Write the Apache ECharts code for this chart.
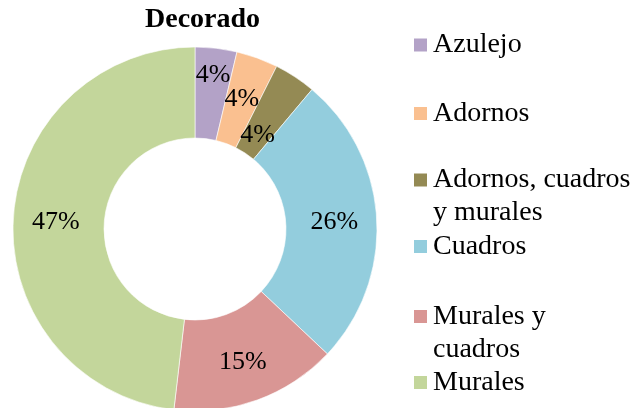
<!DOCTYPE html>
<html><head><meta charset="utf-8">
<script src="https://cdn.jsdelivr.net/npm/echarts@6/dist/echarts.min.js"></script>
<style>html,body{margin:0;padding:0;background:#fff}#c{width:639px;height:408px}</style>
</head><body><div id="c"></div>
<script>
const categories = ['Azulejo', 'Adornos', 'Adornos, cuadros y murales', 'Cuadros', 'Murales y cuadros', 'Murales'];
const counts = [1, 1, 1, 7, 4, 13];
const percentLabels = ['4%', '4%', '4%', '26%', '15%', '47%'];
const legendText = ['Azulejo', 'Adornos', '\nAdornos, cuadros\ny murales', 'Cuadros', '\nMurales y\ncuadros', 'Murales'];
const colors = ['#B3A2C7', '#FAC090', '#948A54', '#93CDDD', '#D99694', '#C3D69B'];

const FONT = 'Liberation Serif';
const labelShift = [[2, -15], [-1, 1], [-14, 23], [0, 1], [0, 2], [0, 1]];
const legendTops = [28.5, 97, 130.5, 230, 267, 366];

const chart = echarts.init(document.getElementById('c'));
chart.setOption({
  animation: false,
  color: colors,
  title: {
    text: 'Decorado', left: 145, top: 6, padding: 0,
    textStyle: { fontFamily: FONT, fontWeight: 'bold', fontSize: 28, color: '#000' }
  },
  legend: categories.map((name, i) => ({
    data: [name], orient: 'vertical', left: 412, top: legendTops[i], padding: 0,
    itemWidth: 15, itemHeight: 15, icon: 'rect', selectedMode: false,
    formatter: () => legendText[i],
    textStyle: { fontFamily: FONT, fontSize: 28, color: '#000', lineHeight: 33 }
  })),
  series: [{
    type: 'pie',
    center: [195, 229],
    radius: [91, 182],
    startAngle: 90,
    clockwise: true,
    avoidLabelOverlap: false,
    itemStyle: { borderColor: '#fff', borderWidth: 0.6 },
    label: {
      show: true, position: 'inside',
      fontFamily: FONT, fontSize: 26, color: '#000',
      formatter: p => percentLabels[p.dataIndex]
    },
    labelLayout: p => ({ dx: labelShift[p.dataIndex][0], dy: labelShift[p.dataIndex][1] }),
    labelLine: { show: false },
    data: categories.map((n, i) => ({ name: n, value: counts[i] }))
  }]
});
</script></body></html>
